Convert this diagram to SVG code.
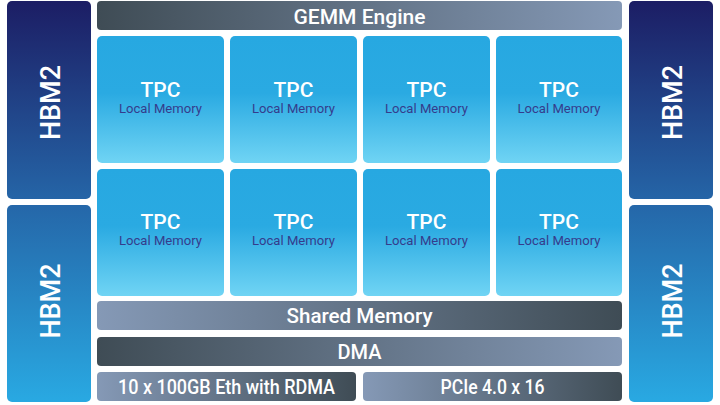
<svg xmlns="http://www.w3.org/2000/svg" width="720" height="405" viewBox="0 0 720 405">
  <defs>
    <linearGradient id="hbm" gradientUnits="userSpaceOnUse" x1="0" y1="0" x2="0" y2="405">
      <stop offset="0" stop-color="#1c1d64"/>
      <stop offset="0.5" stop-color="#2566a8"/>
      <stop offset="1" stop-color="#29aae3"/>
    </linearGradient>
    <linearGradient id="tpc" x1="0" y1="0" x2="0" y2="1">
      <stop offset="0" stop-color="#27a8e1"/>
      <stop offset="0.45" stop-color="#2aaae2"/>
      <stop offset="1" stop-color="#70d4f4"/>
    </linearGradient>
    <linearGradient id="darkLight" x1="0" y1="0" x2="1" y2="0">
      <stop offset="0" stop-color="#3f4c55"/>
      <stop offset="1" stop-color="#8599b6"/>
    </linearGradient>
    <linearGradient id="lightDark" x1="0" y1="0" x2="1" y2="0">
      <stop offset="0" stop-color="#8599b6"/>
      <stop offset="1" stop-color="#3f4c55"/>
    </linearGradient>
  </defs>
  <style>
    .hbm { fill: url(#hbm); }
    .tpcbox { fill: url(#tpc); }
    .hbmt { font-family: Roboto, "Liberation Sans", sans-serif; font-weight: 500; font-size: 27px; fill: #ffffff; text-anchor: middle; }
    .tpct { font-family: Roboto, "Liberation Sans", sans-serif; font-weight: 500; font-size: 21px; fill: #ffffff; text-anchor: middle; }
    .lmt { font-family: Roboto, "Liberation Sans", sans-serif; font-weight: 400; font-size: 13.5px; fill: #353c8c; text-anchor: middle; }
    .bart { font-family: Roboto, "Liberation Sans", sans-serif; font-weight: 500; font-size: 20px; fill: #ffffff; text-anchor: middle; }
  </style>
  <rect width="720" height="405" fill="#ffffff"/>

  <g id="hbm2-top-left">
    <rect class="hbm" x="7" y="1" width="84" height="198" rx="5"/>
    <text class="hbmt" transform="translate(60,102.5) rotate(-90)">HBM2</text>
  </g>
  <g id="hbm2-bottom-left">
    <rect class="hbm" x="7" y="205" width="84" height="197" rx="5"/>
    <text class="hbmt" transform="translate(60,301) rotate(-90)">HBM2</text>
  </g>
  <g id="hbm2-top-right">
    <rect class="hbm" x="629" y="1" width="84" height="198" rx="5"/>
    <text class="hbmt" transform="translate(682,102.5) rotate(-90)">HBM2</text>
  </g>
  <g id="hbm2-bottom-right">
    <rect class="hbm" x="629" y="205" width="84" height="197" rx="5"/>
    <text class="hbmt" transform="translate(682,301) rotate(-90)">HBM2</text>
  </g>

  <g id="gemm">
    <rect x="97" y="1" width="525" height="29" rx="4" fill="url(#darkLight)"/>
    <text class="bart" x="359.5" y="23.5" textLength="132" lengthAdjust="spacingAndGlyphs">GEMM Engine</text>
  </g>

  <g id="tpc-1-1"><rect class="tpcbox" x="97" y="36" width="127" height="127" rx="5"/><text class="tpct" x="160.5" y="97">TPC</text><text class="lmt" x="160.5" y="113" textLength="83" lengthAdjust="spacingAndGlyphs">Local Memory</text></g>
  <g id="tpc-1-2"><rect class="tpcbox" x="230" y="36" width="127" height="127" rx="5"/><text class="tpct" x="293.5" y="97">TPC</text><text class="lmt" x="293.5" y="113" textLength="83" lengthAdjust="spacingAndGlyphs">Local Memory</text></g>
  <g id="tpc-1-3"><rect class="tpcbox" x="363" y="36" width="127" height="127" rx="5"/><text class="tpct" x="426.5" y="97">TPC</text><text class="lmt" x="426.5" y="113" textLength="83" lengthAdjust="spacingAndGlyphs">Local Memory</text></g>
  <g id="tpc-1-4"><rect class="tpcbox" x="496" y="36" width="126" height="127" rx="5"/><text class="tpct" x="559" y="97">TPC</text><text class="lmt" x="559" y="113" textLength="83" lengthAdjust="spacingAndGlyphs">Local Memory</text></g>

  <g id="tpc-2-1"><rect class="tpcbox" x="97" y="169" width="127" height="127" rx="5"/><text class="tpct" x="160.5" y="229">TPC</text><text class="lmt" x="160.5" y="245" textLength="83" lengthAdjust="spacingAndGlyphs">Local Memory</text></g>
  <g id="tpc-2-2"><rect class="tpcbox" x="230" y="169" width="127" height="127" rx="5"/><text class="tpct" x="293.5" y="229">TPC</text><text class="lmt" x="293.5" y="245" textLength="83" lengthAdjust="spacingAndGlyphs">Local Memory</text></g>
  <g id="tpc-2-3"><rect class="tpcbox" x="363" y="169" width="127" height="127" rx="5"/><text class="tpct" x="426.5" y="229">TPC</text><text class="lmt" x="426.5" y="245" textLength="83" lengthAdjust="spacingAndGlyphs">Local Memory</text></g>
  <g id="tpc-2-4"><rect class="tpcbox" x="496" y="169" width="126" height="127" rx="5"/><text class="tpct" x="559" y="229">TPC</text><text class="lmt" x="559" y="245" textLength="83" lengthAdjust="spacingAndGlyphs">Local Memory</text></g>

  <g id="shared-memory">
    <rect x="97" y="301" width="525" height="29" rx="4" fill="url(#lightDark)"/>
    <text class="bart" x="359.5" y="323" textLength="146" lengthAdjust="spacingAndGlyphs">Shared Memory</text>
  </g>
  <g id="dma">
    <rect x="97" y="337" width="525" height="29" rx="4" fill="url(#darkLight)"/>
    <text class="bart" x="359.5" y="359">DMA</text>
  </g>
  <g id="eth">
    <rect x="97" y="372" width="259" height="29" rx="4" fill="url(#lightDark)"/>
    <text class="bart" x="226.5" y="394" textLength="217" lengthAdjust="spacingAndGlyphs">10 x 100GB Eth with RDMA</text>
  </g>
  <g id="pcie">
    <rect x="363" y="372" width="259" height="29" rx="4" fill="url(#lightDark)"/>
    <text class="bart" x="492.5" y="394" textLength="104" lengthAdjust="spacingAndGlyphs">PCIe 4.0 x 16</text>
  </g>

  <g id="connectors"></g>
</svg>
